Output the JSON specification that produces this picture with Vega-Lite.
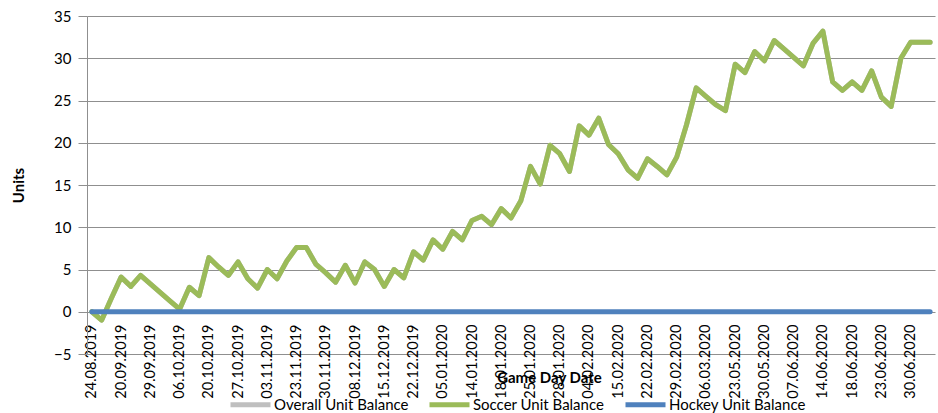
{
  "$schema": "https://vega.github.io/schema/vega-lite/v6.json",
  "autosize": {"type": "none"},
  "width": 848,
  "height": 338,
  "padding": {"left": 87, "top": 16, "right": 3, "bottom": 59},
  "background": "white",
  "config": {
    "view": {"stroke": null},
    "font": "Lato"
  },
  "data": {
    "values": [
      {"d": "24.08.2019", "Overall Unit Balance": 0, "Soccer Unit Balance": 0, "Hockey Unit Balance": 0},
      {"d": "31.08.2019", "Overall Unit Balance": -1, "Soccer Unit Balance": -1, "Hockey Unit Balance": 0},
      {"d": "14.09.2019", "Overall Unit Balance": 1.6, "Soccer Unit Balance": 1.6, "Hockey Unit Balance": 0},
      {"d": "20.09.2019", "Overall Unit Balance": 4.1, "Soccer Unit Balance": 4.1, "Hockey Unit Balance": 0},
      {"d": "22.09.2019", "Overall Unit Balance": 3.0, "Soccer Unit Balance": 3.0, "Hockey Unit Balance": 0},
      {"d": "28.09.2019", "Overall Unit Balance": 4.3, "Soccer Unit Balance": 4.3, "Hockey Unit Balance": 0},
      {"d": "29.09.2019", "Overall Unit Balance": 3.3, "Soccer Unit Balance": 3.3, "Hockey Unit Balance": 0},
      {"d": "01.10.2019", "Overall Unit Balance": 2.3, "Soccer Unit Balance": 2.3, "Hockey Unit Balance": 0},
      {"d": "05.10.2019", "Overall Unit Balance": 1.3, "Soccer Unit Balance": 1.3, "Hockey Unit Balance": 0},
      {"d": "06.10.2019", "Overall Unit Balance": 0.3, "Soccer Unit Balance": 0.3, "Hockey Unit Balance": 0},
      {"d": "13.10.2019", "Overall Unit Balance": 2.9, "Soccer Unit Balance": 2.9, "Hockey Unit Balance": 0},
      {"d": "19.10.2019", "Overall Unit Balance": 1.9, "Soccer Unit Balance": 1.9, "Hockey Unit Balance": 0},
      {"d": "20.10.2019", "Overall Unit Balance": 6.4, "Soccer Unit Balance": 6.4, "Hockey Unit Balance": 0},
      {"d": "23.10.2019", "Overall Unit Balance": 5.3, "Soccer Unit Balance": 5.3, "Hockey Unit Balance": 0},
      {"d": "26.10.2019", "Overall Unit Balance": 4.3, "Soccer Unit Balance": 4.3, "Hockey Unit Balance": 0},
      {"d": "27.10.2019", "Overall Unit Balance": 5.9, "Soccer Unit Balance": 5.9, "Hockey Unit Balance": 0},
      {"d": "30.10.2019", "Overall Unit Balance": 3.9, "Soccer Unit Balance": 3.9, "Hockey Unit Balance": 0},
      {"d": "02.11.2019", "Overall Unit Balance": 2.8, "Soccer Unit Balance": 2.8, "Hockey Unit Balance": 0},
      {"d": "03.11.2019", "Overall Unit Balance": 5.0, "Soccer Unit Balance": 5.0, "Hockey Unit Balance": 0},
      {"d": "09.11.2019", "Overall Unit Balance": 3.9, "Soccer Unit Balance": 3.9, "Hockey Unit Balance": 0},
      {"d": "22.11.2019", "Overall Unit Balance": 6.0, "Soccer Unit Balance": 6.0, "Hockey Unit Balance": 0},
      {"d": "23.11.2019", "Overall Unit Balance": 7.6, "Soccer Unit Balance": 7.6, "Hockey Unit Balance": 0},
      {"d": "24.11.2019", "Overall Unit Balance": 7.6, "Soccer Unit Balance": 7.6, "Hockey Unit Balance": 0},
      {"d": "29.11.2019", "Overall Unit Balance": 5.6, "Soccer Unit Balance": 5.6, "Hockey Unit Balance": 0},
      {"d": "30.11.2019", "Overall Unit Balance": 4.6, "Soccer Unit Balance": 4.6, "Hockey Unit Balance": 0},
      {"d": "01.12.2019", "Overall Unit Balance": 3.5, "Soccer Unit Balance": 3.5, "Hockey Unit Balance": 0},
      {"d": "07.12.2019", "Overall Unit Balance": 5.5, "Soccer Unit Balance": 5.5, "Hockey Unit Balance": 0},
      {"d": "08.12.2019", "Overall Unit Balance": 3.4, "Soccer Unit Balance": 3.4, "Hockey Unit Balance": 0},
      {"d": "09.12.2019", "Overall Unit Balance": 5.9, "Soccer Unit Balance": 5.9, "Hockey Unit Balance": 0},
      {"d": "14.12.2019", "Overall Unit Balance": 5.0, "Soccer Unit Balance": 5.0, "Hockey Unit Balance": 0},
      {"d": "15.12.2019", "Overall Unit Balance": 3.0, "Soccer Unit Balance": 3.0, "Hockey Unit Balance": 0},
      {"d": "16.12.2019", "Overall Unit Balance": 5.0, "Soccer Unit Balance": 5.0, "Hockey Unit Balance": 0},
      {"d": "21.12.2019", "Overall Unit Balance": 4.0, "Soccer Unit Balance": 4.0, "Hockey Unit Balance": 0},
      {"d": "22.12.2019", "Overall Unit Balance": 7.1, "Soccer Unit Balance": 7.1, "Hockey Unit Balance": 0},
      {"d": "26.12.2019", "Overall Unit Balance": 6.1, "Soccer Unit Balance": 6.1, "Hockey Unit Balance": 0},
      {"d": "29.12.2019", "Overall Unit Balance": 8.5, "Soccer Unit Balance": 8.5, "Hockey Unit Balance": 0},
      {"d": "05.01.2020", "Overall Unit Balance": 7.4, "Soccer Unit Balance": 7.4, "Hockey Unit Balance": 0},
      {"d": "11.01.2020", "Overall Unit Balance": 9.5, "Soccer Unit Balance": 9.5, "Hockey Unit Balance": 0},
      {"d": "12.01.2020", "Overall Unit Balance": 8.5, "Soccer Unit Balance": 8.5, "Hockey Unit Balance": 0},
      {"d": "14.01.2020", "Overall Unit Balance": 10.8, "Soccer Unit Balance": 10.8, "Hockey Unit Balance": 0},
      {"d": "15.01.2020", "Overall Unit Balance": 11.3, "Soccer Unit Balance": 11.3, "Hockey Unit Balance": 0},
      {"d": "17.01.2020", "Overall Unit Balance": 10.3, "Soccer Unit Balance": 10.3, "Hockey Unit Balance": 0},
      {"d": "18.01.2020", "Overall Unit Balance": 12.2, "Soccer Unit Balance": 12.2, "Hockey Unit Balance": 0},
      {"d": "21.01.2020", "Overall Unit Balance": 11.1, "Soccer Unit Balance": 11.1, "Hockey Unit Balance": 0},
      {"d": "22.01.2020", "Overall Unit Balance": 13.1, "Soccer Unit Balance": 13.1, "Hockey Unit Balance": 0},
      {"d": "25.01.2020", "Overall Unit Balance": 17.2, "Soccer Unit Balance": 17.2, "Hockey Unit Balance": 0},
      {"d": "26.01.2020", "Overall Unit Balance": 15.1, "Soccer Unit Balance": 15.1, "Hockey Unit Balance": 0},
      {"d": "27.01.2020", "Overall Unit Balance": 19.7, "Soccer Unit Balance": 19.7, "Hockey Unit Balance": 0},
      {"d": "28.01.2020", "Overall Unit Balance": 18.7, "Soccer Unit Balance": 18.7, "Hockey Unit Balance": 0},
      {"d": "01.02.2020", "Overall Unit Balance": 16.6, "Soccer Unit Balance": 16.6, "Hockey Unit Balance": 0},
      {"d": "02.02.2020", "Overall Unit Balance": 22.0, "Soccer Unit Balance": 22.0, "Hockey Unit Balance": 0},
      {"d": "04.02.2020", "Overall Unit Balance": 20.9, "Soccer Unit Balance": 20.9, "Hockey Unit Balance": 0},
      {"d": "08.02.2020", "Overall Unit Balance": 22.9, "Soccer Unit Balance": 22.9, "Hockey Unit Balance": 0},
      {"d": "09.02.2020", "Overall Unit Balance": 19.8, "Soccer Unit Balance": 19.8, "Hockey Unit Balance": 0},
      {"d": "15.02.2020", "Overall Unit Balance": 18.7, "Soccer Unit Balance": 18.7, "Hockey Unit Balance": 0},
      {"d": "16.02.2020", "Overall Unit Balance": 16.8, "Soccer Unit Balance": 16.8, "Hockey Unit Balance": 0},
      {"d": "19.02.2020", "Overall Unit Balance": 15.8, "Soccer Unit Balance": 15.8, "Hockey Unit Balance": 0},
      {"d": "22.02.2020", "Overall Unit Balance": 18.1, "Soccer Unit Balance": 18.1, "Hockey Unit Balance": 0},
      {"d": "23.02.2020", "Overall Unit Balance": 17.2, "Soccer Unit Balance": 17.2, "Hockey Unit Balance": 0},
      {"d": "26.02.2020", "Overall Unit Balance": 16.2, "Soccer Unit Balance": 16.2, "Hockey Unit Balance": 0},
      {"d": "29.02.2020", "Overall Unit Balance": 18.3, "Soccer Unit Balance": 18.3, "Hockey Unit Balance": 0},
      {"d": "01.03.2020", "Overall Unit Balance": 22.1, "Soccer Unit Balance": 22.1, "Hockey Unit Balance": 0},
      {"d": "04.03.2020", "Overall Unit Balance": 26.5, "Soccer Unit Balance": 26.5, "Hockey Unit Balance": 0},
      {"d": "06.03.2020", "Overall Unit Balance": 25.5, "Soccer Unit Balance": 25.5, "Hockey Unit Balance": 0},
      {"d": "07.03.2020", "Overall Unit Balance": 24.5, "Soccer Unit Balance": 24.5, "Hockey Unit Balance": 0},
      {"d": "16.05.2020", "Overall Unit Balance": 23.8, "Soccer Unit Balance": 23.8, "Hockey Unit Balance": 0},
      {"d": "23.05.2020", "Overall Unit Balance": 29.3, "Soccer Unit Balance": 29.3, "Hockey Unit Balance": 0},
      {"d": "26.05.2020", "Overall Unit Balance": 28.3, "Soccer Unit Balance": 28.3, "Hockey Unit Balance": 0},
      {"d": "27.05.2020", "Overall Unit Balance": 30.8, "Soccer Unit Balance": 30.8, "Hockey Unit Balance": 0},
      {"d": "30.05.2020", "Overall Unit Balance": 29.7, "Soccer Unit Balance": 29.7, "Hockey Unit Balance": 0},
      {"d": "31.05.2020", "Overall Unit Balance": 32.1, "Soccer Unit Balance": 32.1, "Hockey Unit Balance": 0},
      {"d": "06.06.2020", "Overall Unit Balance": 31.1, "Soccer Unit Balance": 31.1, "Hockey Unit Balance": 0},
      {"d": "07.06.2020", "Overall Unit Balance": 30.1, "Soccer Unit Balance": 30.1, "Hockey Unit Balance": 0},
      {"d": "12.06.2020", "Overall Unit Balance": 29.1, "Soccer Unit Balance": 29.1, "Hockey Unit Balance": 0},
      {"d": "13.06.2020", "Overall Unit Balance": 31.8, "Soccer Unit Balance": 31.8, "Hockey Unit Balance": 0},
      {"d": "14.06.2020", "Overall Unit Balance": 33.2, "Soccer Unit Balance": 33.2, "Hockey Unit Balance": 0},
      {"d": "16.06.2020", "Overall Unit Balance": 27.2, "Soccer Unit Balance": 27.2, "Hockey Unit Balance": 0},
      {"d": "17.06.2020", "Overall Unit Balance": 26.2, "Soccer Unit Balance": 26.2, "Hockey Unit Balance": 0},
      {"d": "18.06.2020", "Overall Unit Balance": 27.2, "Soccer Unit Balance": 27.2, "Hockey Unit Balance": 0},
      {"d": "20.06.2020", "Overall Unit Balance": 26.2, "Soccer Unit Balance": 26.2, "Hockey Unit Balance": 0},
      {"d": "21.06.2020", "Overall Unit Balance": 28.5, "Soccer Unit Balance": 28.5, "Hockey Unit Balance": 0},
      {"d": "23.06.2020", "Overall Unit Balance": 25.4, "Soccer Unit Balance": 25.4, "Hockey Unit Balance": 0},
      {"d": "27.06.2020", "Overall Unit Balance": 24.3, "Soccer Unit Balance": 24.3, "Hockey Unit Balance": 0},
      {"d": "28.06.2020", "Overall Unit Balance": 30.0, "Soccer Unit Balance": 30.0, "Hockey Unit Balance": 0},
      {"d": "30.06.2020", "Overall Unit Balance": 31.9, "Soccer Unit Balance": 31.9, "Hockey Unit Balance": 0},
      {"d": "03.07.2020", "Overall Unit Balance": 31.9, "Soccer Unit Balance": 31.9, "Hockey Unit Balance": 0},
      {"d": "04.07.2020", "Overall Unit Balance": 31.9, "Soccer Unit Balance": 31.9, "Hockey Unit Balance": 0}
    ]
  },
  "transform": [
    {"fold": ["Overall Unit Balance", "Soccer Unit Balance", "Hockey Unit Balance"], "as": ["series", "value"]}
  ],
  "mark": {"type": "line", "strokeWidth": 5, "strokeCap": "round", "strokeJoin": "round"},
  "encoding": {
    "x": {
      "field": "d",
      "type": "nominal",
      "sort": null,
      "scale": {"type": "point", "padding": 0.5},
      "axis": {
        "title": "Game Day Date",
        "titleFont": "Lato",
        "titleFontSize": 15,
        "titleFontWeight": "bold",
        "titleColor": "#000000",
        "titleX": 462,
        "titleY": 55,
        "titleBaseline": "middle",
        "titleAnchor": null,
        "titleAlign": "center",
        "offset": -32,
        "domain": false,
        "ticks": false,
        "grid": false,
        "labelAngle": -90,
        "labelPadding": 2,
        "labelFont": "Lato",
        "labelFontSize": 14.5,
        "labelColor": "#000000",
        "labelOverlap": false,
        "labelLimit": 200,
        "values": ["24.08.2019", "20.09.2019", "29.09.2019", "06.10.2019", "20.10.2019", "27.10.2019", "03.11.2019", "23.11.2019", "30.11.2019", "08.12.2019", "15.12.2019", "22.12.2019", "05.01.2020", "14.01.2020", "18.01.2020", "25.01.2020", "28.01.2020", "04.02.2020", "15.02.2020", "22.02.2020", "29.02.2020", "06.03.2020", "23.05.2020", "30.05.2020", "07.06.2020", "14.06.2020", "18.06.2020", "23.06.2020", "30.06.2020"]
      }
    },
    "y": {
      "field": "value",
      "type": "quantitative",
      "scale": {"domain": [-5, 35], "nice": false, "zero": false},
      "axis": {
        "title": "Units",
        "titleFont": "Lato",
        "titleFontSize": 15,
        "titleFontWeight": "bold",
        "titleColor": "#000000",
        "titleX": -69,
        "titleY": 169,
        "titleAngle": -90,
        "titleAlign": "center",
        "titleBaseline": "middle",
        "values": [-5, 0, 5, 10, 15, 20, 25, 30, 35],
        "grid": true,
        "gridColor": "#8f8f8f",
        "gridWidth": 1,
        "domain": true,
        "domainColor": "#8f8f8f",
        "domainWidth": 1,
        "ticks": true,
        "tickSize": 9,
        "tickColor": "#8f8f8f",
        "labelPadding": 7,
        "labelFont": "Lato",
        "labelFontSize": 15,
        "labelColor": "#000000"
      }
    },
    "color": {
      "field": "series",
      "type": "nominal",
      "sort": null,
      "scale": {
        "domain": ["Overall Unit Balance", "Soccer Unit Balance", "Hockey Unit Balance"],
        "range": ["#BFBFBF", "#9BBB59", "#4F81BD"]
      },
      "legend": {
        "title": null,
        "orient": "none",
        "legendX": 141,
        "legendY": 366,
        "direction": "horizontal",
        "symbolType": "stroke",
        "symbolSize": 1600,
        "symbolStrokeWidth": 5,
        "labelFont": "Lato",
        "labelFontSize": 15,
        "labelColor": "#000000",
        "labelOffset": 1,
        "labelLimit": 300,
        "columnPadding": 10,
        "padding": 0,
        "offset": 0
      }
    }
  }
}
